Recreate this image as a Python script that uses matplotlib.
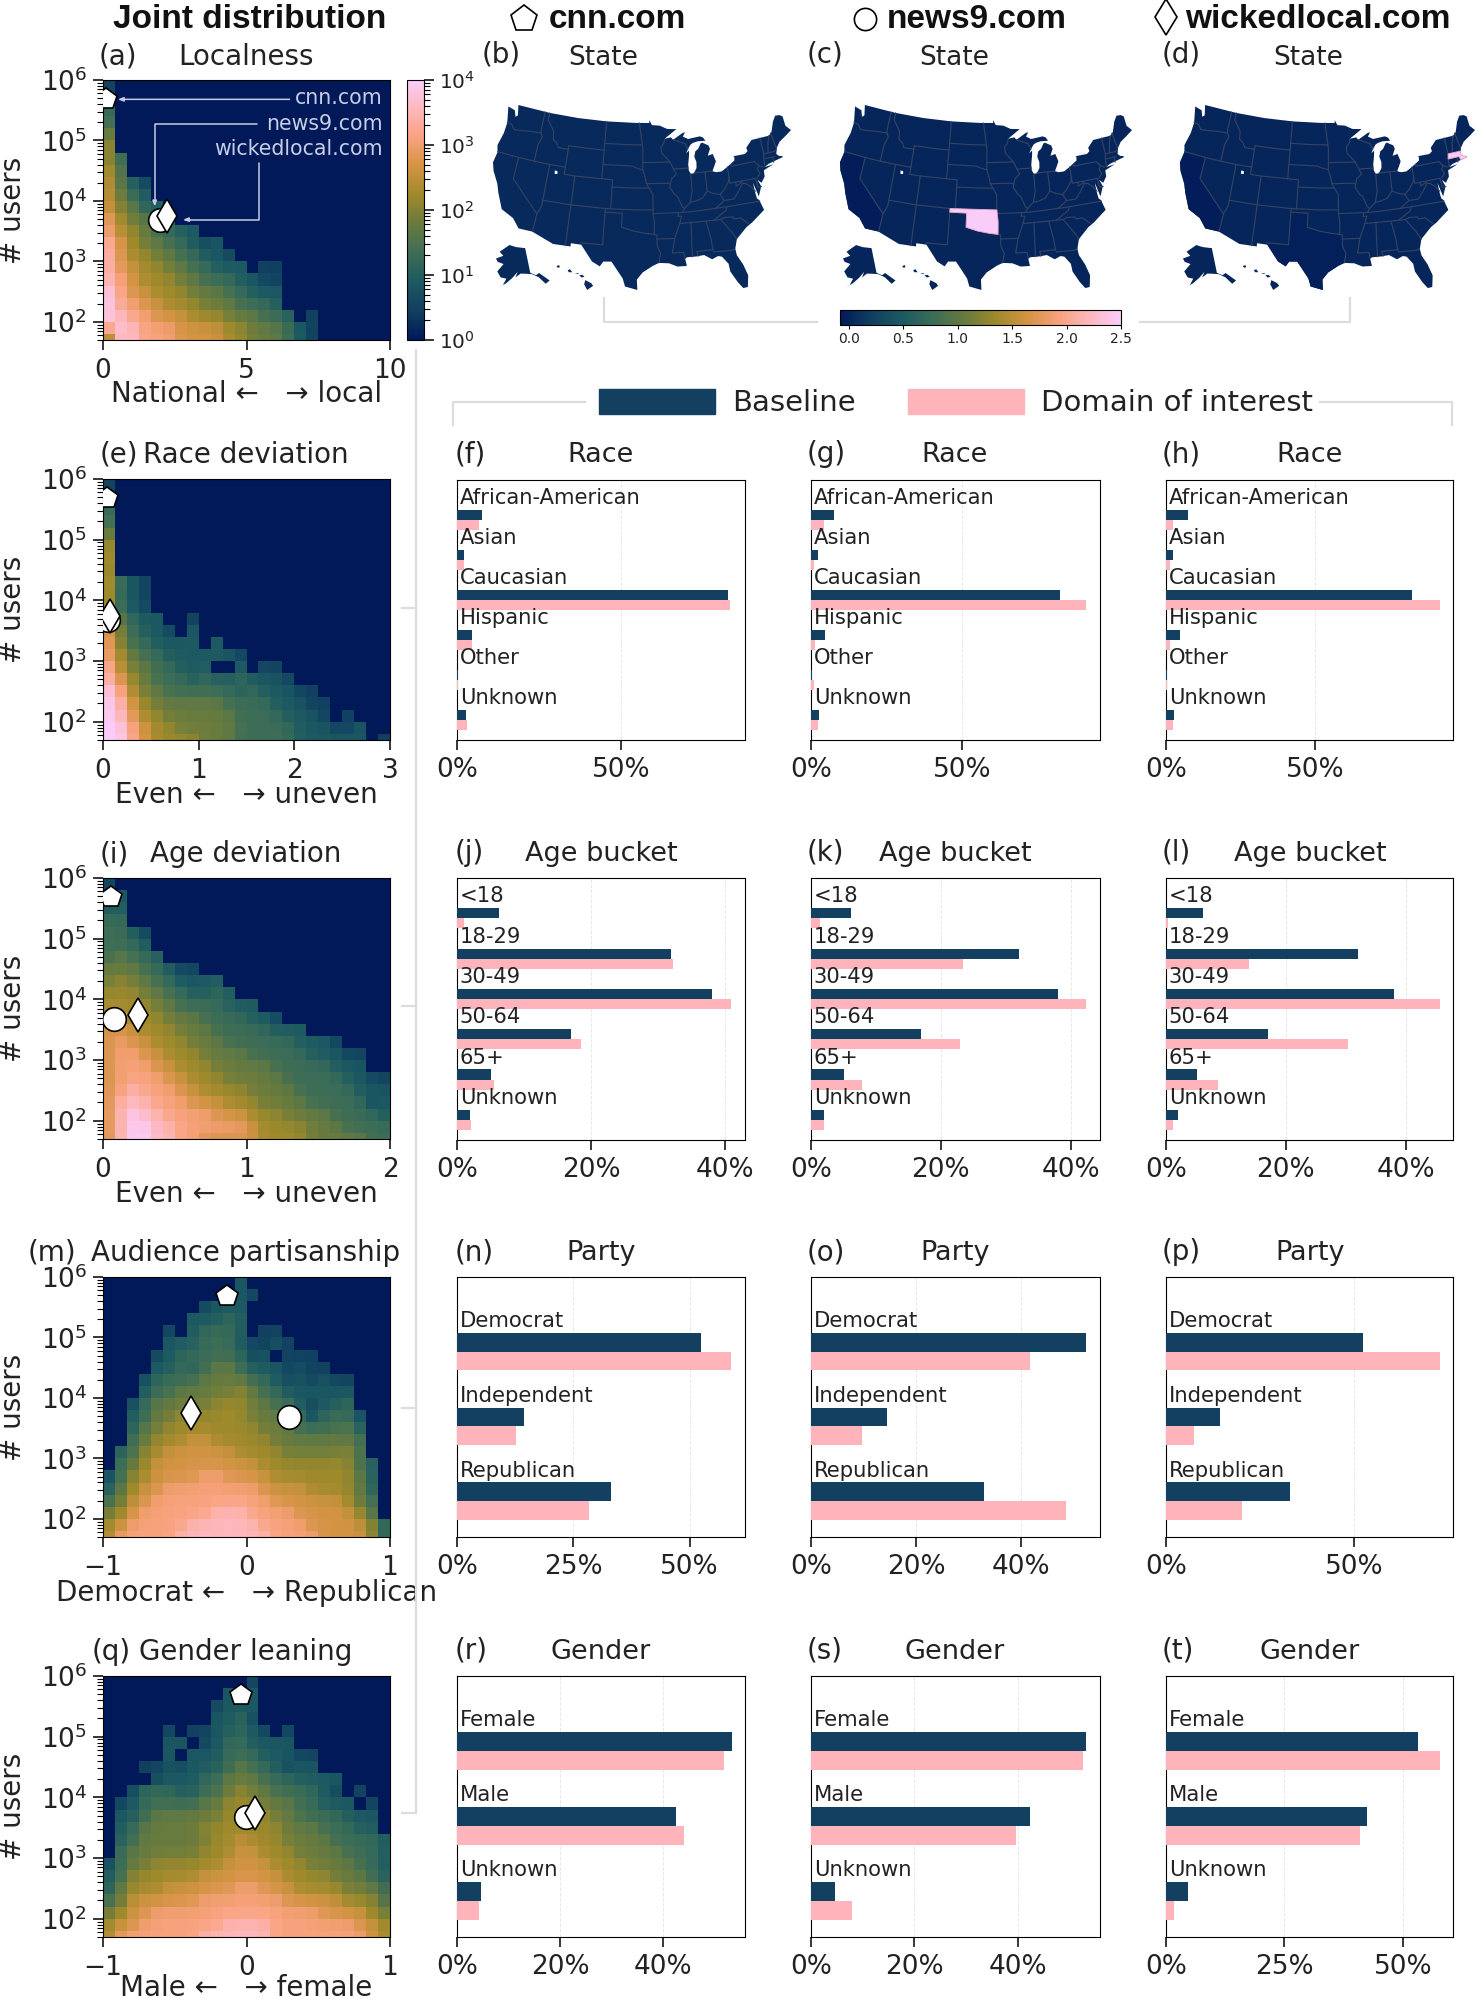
"""Joint distribution heatmaps, state maps and demographic bars for three domains."""

import numpy as np
import matplotlib
matplotlib.use("Agg")
import matplotlib.pyplot as plt
from matplotlib.colors import LinearSegmentedColormap, LogNorm, Normalize
from matplotlib.cm import ScalarMappable
from matplotlib.lines import Line2D
from matplotlib.patches import Patch, Polygon

W, H = 1477, 2000
TEXT = "#222222"
BASE_COLOR = "#133F60"
PINK = "#FFB3BA"
LINE_GREY = "#dcdcdc"

CMAP = LinearSegmentedColormap.from_list("batlowish", [
    "#011959", "#103F60", "#1C5A62", "#3C6D56", "#687B3E",
    "#9D892B", "#D29343", "#F8A17B", "#FDB7BC", "#FACCFA"])

# heatmap cells, top row first, colour level 0-9 (log count = level * 4 / 9),
# rows are padded with 0 on the right up to 24 columns
LOCALNESS = ["1", "2", "3", "3", "4", "5", "52", "63", "6321", "6432", "64422",
             "754432", "75543322", "8654433212", "86554433221",
             "866554433222011", "876555443332211", "976655544433222",
             "977665554443332", "987766655544433201",
             "798777666655444321", "498777666655444321"]
RACE_DEV = ["1", "2", "3", "3", "4", "5", "5", "5", "6221", "6221", "6221",
            "63322001", "74322102", "7433222202", "754332222221",
            "854433222002011", "8654333232232221", "975443333332322211",
            "9865444444333322211", "986554444443333222101",
            "9976554444433333222112", "997655554443333322222201"]
AGE_DEV = ["1", "22", "22", "33", "3321", "3332", "34332", "44433211",
           "4544332222", "55544332232", "5555443333222", "665554443333221",
           "66655544433333222", "67665554443333332221",
           "6776655544443333322211", "6777665554444433333222",
           "677776655544444333332211", "678777665555444433333222",
           "688877766655544443333312", "689887777666555444433332",
           "689988777777655554443333", "689988776666655554444433"]
PARTISAN = ["000000000002", "0000000000221", "000000001222", "000000022232",
            "000001023332011", "0000022233321121", "000012333333120111",
            "0000223234432221211", "000133334444332121211",
            "000233444445433222222", "001344444555443321223",
            "0023445555554444313331", "0024455555555444333342",
            "0034555665555544444443", "0235566666655554444453",
            "03456666666665555555532", "13556666776666555555542",
            "24566777777776666555542", "34667777777777666666543",
            "45677777788877776666653", "567777788888877776666652",
            "577777888888887777666652"]
GENDER_LEAN = ["0000000000001", "0000000000222", "0000000001222", "0000000002231",
               "0000010112232101", "0000022012332222", "000002022233322211",
               "000112122234332122", "00001222334443332222",
               "0013332233454433332101", "01233333445554443322201",
               "02234444445555443333222", "02344444555555544433322",
               "023444444556555444433332", "034444445556655544443332",
               "134455555566665554444332", "235555556666666555544432",
               "245556666667766655554443", "346666667777777666665553",
               "456677777777777777666654", "566777777788887777777665",
               "577777778888887777777765"]

# log10 of the user counts of the three domains
CNN_USERS, NEWS9_USERS, WICKED_USERS = 5.68, 3.68, 3.75
# domain x position per panel: cnn, news9, wickedlocal
LOCALNESS_X = [0.12, 2.0, 2.24]
RACE_X = [0.04, 0.05, 0.07]
AGE_X = [0.058, 0.077, 0.247]
PARTISAN_X = [-0.133, 0.298, -0.388]
GENDER_X = [-0.035, -0.005, 0.058]

RACE_CATS = ["African-American", "Asian", "Caucasian", "Hispanic", "Other", "Unknown"]
RACE_BASE = [7.5, 2.2, 82.5, 4.7, 0.3, 2.6]
RACE_CNN = [6.6, 2.2, 83.0, 4.6, 0.3, 3.0]
RACE_NEWS9 = [4.4, 1.0, 91.2, 1.2, 1.0, 2.2]
RACE_WICKED = [2.5, 1.5, 91.8, 1.2, 0.5, 2.5]

AGE_CATS = ["<18", "18-29", "30-49", "50-64", "65+", "Unknown"]
AGE_BASE = [6.2, 32.0, 38.0, 17.0, 5.1, 2.0]
AGE_CNN = [1.1, 32.3, 40.9, 18.5, 5.5, 2.1]
AGE_NEWS9 = [1.4, 23.4, 42.3, 23.0, 7.9, 2.0]
AGE_WICKED = [0.4, 13.9, 45.7, 30.4, 8.6, 1.2]

PARTY_CATS = ["Democrat", "Independent", "Republican"]
PARTY_BASE = [52.4, 14.4, 33.0]
PARTY_CNN = [58.8, 12.6, 28.3]
PARTY_NEWS9 = [41.7, 9.7, 48.5]
PARTY_WICKED = [72.8, 7.5, 20.2]

GENDER_CATS = ["Female", "Male", "Unknown"]
GENDER_BASE = [53.2, 42.4, 4.7]
GENDER_CNN = [51.7, 44.0, 4.2]
GENDER_NEWS9 = [52.6, 39.7, 7.9]
GENDER_WICKED = [57.8, 40.9, 1.7]

# state map outlines, lon/lat
US_OUTLINE = [(-124.7, 48.4), (-123.2, 48.15), (-122.7, 47.3), (-122.3, 47.6), (-122.8, 49.0),
              (-116, 49), (-110, 49), (-104, 49), (-98, 49), (-95.15, 49.0), (-95.15, 49.4),
              (-94.6, 48.7), (-93.0, 48.6), (-91.5, 48.1), (-89.6, 48.0), (-92.1, 46.75),
              (-90.8, 46.9), (-90.4, 46.55), (-88.4, 47.4), (-87.9, 47.47), (-88.4, 46.9),
              (-87.4, 46.5), (-85.0, 46.7), (-84.4, 46.5), (-84.0, 46.0), (-85.5, 46.05),
              (-86.5, 45.9), (-87.0, 45.7), (-87.6, 45.1), (-88.0, 44.55), (-87.4, 44.9),
              (-87.5, 44.2), (-87.8, 43.0), (-87.8, 42.2), (-87.5, 41.7), (-86.9, 41.7),
              (-86.3, 42.4), (-86.2, 43.2), (-86.5, 44.0), (-86.2, 44.7), (-85.6, 45.0),
              (-85.0, 45.7), (-84.7, 45.8), (-83.5, 45.3), (-83.3, 44.8), (-83.9, 43.9),
              (-82.9, 44.05), (-82.5, 43.0), (-82.9, 42.4), (-83.2, 42.0), (-83.4, 41.7),
              (-82.7, 41.5), (-81.7, 41.5), (-80.5, 42.0), (-79.0, 42.7), (-78.9, 43.2),
              (-79.1, 43.3), (-76.8, 43.3), (-76.2, 43.6), (-76.3, 44.1), (-75.0, 45.0),
              (-71.5, 45.0), (-70.8, 45.4), (-70.3, 46.2), (-70.0, 46.7), (-69.2, 47.45),
              (-68.3, 47.35), (-67.8, 47.05), (-67.8, 45.7), (-67.0, 44.9), (-68.5, 44.3),
              (-69.8, 43.8), (-70.6, 43.1), (-70.8, 42.7), (-71.0, 42.3), (-70.6, 41.95),
              (-70.0, 41.8), (-70.0, 41.65), (-71.2, 41.5), (-72.9, 41.25), (-73.7, 40.95),
              (-72.0, 41.05), (-74.0, 40.55), (-74.1, 39.7), (-74.9, 38.95), (-75.5, 39.45),
              (-75.1, 38.5), (-75.9, 37.2), (-76.4, 39.2), (-76.4, 38.0), (-76.3, 37.0),
              (-75.95, 36.7), (-75.5, 35.25), (-76.6, 34.65), (-77.9, 33.9), (-79.0, 33.4),
              (-80.9, 32.0), (-81.4, 30.7), (-81.3, 29.8), (-80.55, 28.4), (-80.05, 26.8),
              (-80.4, 25.2), (-81.1, 25.15), (-81.8, 26.1), (-82.7, 27.7), (-82.8, 28.8),
              (-83.7, 29.9), (-84.3, 30.05), (-85.3, 29.7), (-86.5, 30.4), (-88.0, 30.3),
              (-89.2, 30.3), (-89.6, 30.15), (-89.4, 29.1), (-90.9, 29.1), (-92.2, 29.6),
              (-93.8, 29.7), (-94.8, 29.3), (-96.4, 28.4), (-97.3, 27.4), (-97.2, 25.95),
              (-99.1, 26.4), (-99.5, 27.5), (-100.4, 28.6), (-101.4, 29.77), (-102.7, 29.7),
              (-103.2, 29.0), (-104.5, 29.6), (-106.5, 31.75), (-108.2, 31.78), (-108.2, 31.33),
              (-111.07, 31.33), (-114.8, 32.5), (-117.1, 32.53), (-118.4, 33.75), (-120.6, 34.55),
              (-121.9, 36.6), (-122.5, 37.75), (-123.8, 39.3), (-124.35, 40.4), (-124.1, 41.9),
              (-124.5, 42.85), (-124.0, 44.7), (-123.95, 46.2)]
SALT_LAKE = [(-112.9, 41.3), (-112.4, 41.3), (-112.3, 40.9), (-112.8, 40.85)]
CALIFORNIA = [(-124.1, 42), (-120, 42), (-120, 39), (-114.6, 35), (-114.8, 32.5), (-117.1, 32.53),
              (-118.4, 33.75), (-120.6, 34.55), (-121.9, 36.6), (-122.5, 37.75), (-123.8, 39.3),
              (-124.35, 40.4)]
TEXAS = [(-106.5, 31.75), (-106.6, 32), (-103, 32), (-103, 36.5), (-100, 36.5), (-100, 34.56),
         (-98, 34.1), (-96, 33.8), (-94.48, 33.64), (-94.04, 33.55), (-94.04, 32), (-93.5, 31),
         (-93.8, 29.7), (-94.8, 29.3), (-96.4, 28.4), (-97.3, 27.4), (-97.2, 25.95), (-99.1, 26.4),
         (-99.5, 27.5), (-100.4, 28.6), (-101.4, 29.77), (-102.7, 29.7), (-103.2, 29.0), (-104.5, 29.6)]
OKLAHOMA = [(-103, 37), (-94.62, 37), (-94.43, 35.4), (-94.48, 33.64), (-96, 33.8), (-98, 34.1),
            (-100, 34.56), (-100, 36.5), (-103, 36.5)]
MASSACHUSETTS = [(-73.5, 42.05), (-71.4, 42.02), (-71.2, 41.5), (-70, 41.65), (-70, 41.8),
                 (-70.6, 41.95), (-71, 42.3), (-70.8, 42.7), (-71.3, 42.7), (-73.27, 42.75)]
ALASKA = [(-141, 69.6), (-141, 60.3), (-137.5, 59), (-135, 59.5), (-130, 55.7), (-133, 55),
          (-136, 58), (-140, 59.7), (-145, 60.3), (-148, 60.5), (-151.8, 59.2), (-150, 61.2),
          (-154, 59), (-158, 57), (-163, 55), (-160, 56.2), (-158, 58.7), (-162, 59),
          (-165, 61), (-161, 64), (-166, 64.5), (-168, 65.6), (-162, 67), (-166, 68.3),
          (-157, 71.2), (-150, 70.4)]
HAWAII = [[(-159.75, 22.1), (-159.4, 22.25), (-159.3, 21.95), (-159.6, 21.9)],
          [(-158.25, 21.55), (-157.95, 21.7), (-157.65, 21.3), (-158.1, 21.3)],
          [(-157.3, 21.2), (-156.7, 21.15), (-156.9, 21.05)],
          [(-156.7, 20.9), (-156.3, 20.95), (-156.0, 20.7), (-156.4, 20.6)],
          [(-155.9, 20.25), (-155.1, 19.85), (-154.85, 19.5), (-155.65, 18.95), (-156.05, 19.7)]]
BORDERS = [
    [(-124, 46.25), (-123, 46.15), (-122.3, 45.55), (-121, 45.65), (-119, 45.9), (-116.9, 46.0)],
    [(-117.03, 49), (-117.03, 46.4), (-116.9, 46.0), (-116.5, 45.5), (-117, 44.3), (-117.03, 42)],
    [(-124.1, 42), (-120, 42), (-117, 42), (-114, 42), (-111.05, 42)],
    [(-120, 42), (-120, 39), (-114.6, 35), (-114.05, 36.2), (-114.05, 42)],
    [(-114.6, 35), (-114.75, 32.6)],
    [(-116.05, 49), (-116.05, 48), (-114.5, 46.6), (-114.3, 45.5), (-113.5, 45.1), (-113, 44.5), (-111.05, 44.5)],
    [(-111.05, 45), (-111.05, 41), (-109.05, 41), (-102.05, 41), (-102.05, 37)],
    [(-111.05, 45), (-107, 45), (-104.05, 45)],
    [(-104.05, 49), (-104.05, 41)],
    [(-104.05, 45.94), (-100, 45.94), (-96.56, 45.94)],
    [(-104.05, 43), (-98.5, 43), (-97.9, 42.8), (-96.45, 42.5)],
    [(-102.05, 40), (-98, 40), (-95.3, 40)],
    [(-109.05, 41), (-109.05, 31.33)],
    [(-114.05, 37), (-109, 37), (-103, 37), (-98, 37), (-94.62, 37)],
    [(-103, 37), (-103, 32), (-106.6, 32)],
    [(-103, 36.5), (-100, 36.5), (-100, 34.56), (-98, 34.1), (-96, 33.8), (-94.48, 33.64),
     (-94.43, 35.4), (-94.62, 36.5), (-94.62, 39.1), (-95.3, 40), (-95.77, 40.6), (-96, 41.5),
     (-96.45, 42.5), (-96.45, 45.3), (-96.56, 45.94), (-97.2, 49)],
    [(-95.77, 40.6), (-91.7, 40.6), (-91.4, 40.4)],
    [(-96.45, 43.5), (-91.22, 43.5)],
    [(-92.1, 46.7), (-92.3, 46.1), (-92.9, 45.6), (-92.75, 44.75), (-91.22, 43.5), (-90.65, 42.5),
     (-90.15, 41.8), (-91.1, 41.2), (-91.4, 40.4), (-91.5, 40), (-90.7, 39), (-90.2, 38.7),
     (-89.5, 37.3), (-89.13, 37), (-89.5, 36.5), (-90.15, 36.5), (-90.35, 36), (-89.7, 36),
     (-90.1, 35), (-91.1, 33.0), (-91.6, 31), (-89.75, 31), (-89.6, 30.15)],
    [(-94.62, 36.5), (-90.15, 36.5)],
    [(-94.04, 33), (-91.1, 33)],
    [(-94.48, 33.64), (-94.04, 33.55), (-94.04, 32), (-93.5, 31), (-93.8, 29.7)],
    [(-88.2, 35), (-88.4, 30.3)],
    [(-85.6, 35), (-85.1, 32.5), (-85, 31), (-84.9, 30.7), (-82.2, 30.57), (-81.45, 30.7)],
    [(-87.6, 31), (-85, 31)],
    [(-87.6, 31), (-87.5, 30.3)],
    [(-90.1, 35), (-84.3, 35), (-83.1, 35), (-82.4, 35.2), (-81, 35.1), (-80.8, 34.8), (-79.7, 34.8), (-78.55, 33.85)],
    [(-83.1, 35), (-81.5, 33), (-80.9, 32)],
    [(-89.5, 36.5), (-88, 36.5), (-83.7, 36.6), (-81.7, 36.6), (-75.9, 36.55)],
    [(-84.3, 35), (-82, 36.1), (-81.7, 36.6)],
    [(-83.7, 36.6), (-82, 37.5), (-82.6, 38.4)],
    [(-89.13, 37), (-88, 37.8), (-87, 37.9), (-85.8, 38.2), (-84.8, 39.1), (-83.7, 38.65),
     (-82.6, 38.4), (-81.7, 39), (-80.7, 40), (-80.52, 40.6)],
    [(-87.5, 41.7), (-87.5, 39.3), (-88, 37.8)],
    [(-84.8, 41.75), (-84.8, 39.1)],
    [(-86.9, 41.75), (-84.8, 41.75), (-83.4, 41.72)],
    [(-90.65, 42.5), (-87.8, 42.5)],
    [(-90.4, 46.55), (-88.1, 45.9), (-87.6, 45.1)],
    [(-80.52, 42), (-80.52, 39.72), (-75.8, 39.72)],
    [(-82, 37.5), (-80.3, 37.5), (-79.3, 38.4), (-78.3, 39.4), (-77.7, 39.3), (-77.0, 38.8), (-76.3, 38.0)],
    [(-79.48, 39.72), (-79.48, 39.2), (-78.3, 39.6)],
    [(-79.76, 42.25), (-79.76, 42), (-75.35, 42), (-74.7, 41.35), (-75.1, 40.9), (-74.8, 40.2), (-75.5, 39.7)],
    [(-74.7, 41.35), (-74, 41)],
    [(-73.65, 41), (-73.5, 42.05), (-73.27, 42.75), (-73.3, 45)],
    [(-73.5, 42.05), (-71.8, 42.02), (-71.4, 42.02)],
    [(-71.8, 42.02), (-71.85, 41.3)],
    [(-72.45, 42.73), (-72.05, 44), (-71.5, 45)],
    [(-73.27, 42.75), (-71.3, 42.7), (-70.8, 42.87)],
    [(-70.7, 43.1), (-71.05, 45.3)],
    [(-75.8, 39.72), (-75.7, 38.46), (-75.05, 38.45)],
]


def rect(x0, y0, x1, y1):
    return [x0 / W, 1 - y1 / H, (x1 - x0) / W, (y1 - y0) / H]


def fig_text(fig, x, y, s, **kw):
    kw.setdefault("color", TEXT)
    kw.setdefault("va", "center")
    fig.text(x / W, 1 - y / H, s, **kw)


def fig_line(fig, xs, ys):
    fig.add_artist(Line2D([x / W for x in xs], [1 - y / H for y in ys],
                          color=LINE_GREY, lw=1.6, transform=fig.transFigure))


def albers(points, lon0=-96.0, lat0=37.5, p1=29.5, p2=45.5):
    pts = np.radians(np.array(points, dtype=float))
    lon0, lat0, p1, p2 = np.radians([lon0, lat0, p1, p2])
    n = (np.sin(p1) + np.sin(p2)) / 2
    c = np.cos(p1) ** 2 + 2 * n * np.sin(p1)
    rho = np.sqrt(c - 2 * n * np.sin(pts[:, 1])) / n
    rho0 = np.sqrt(c - 2 * n * np.sin(lat0)) / n
    theta = n * (pts[:, 0] - lon0)
    return np.column_stack([rho * np.sin(theta), rho0 - rho * np.cos(theta)])


def fit_box(xy, x0, x1, y0, y1):
    xy = np.asarray(xy)
    mn, mx = xy.min(axis=0), xy.max(axis=0)
    return np.column_stack([x0 + (xy[:, 0] - mn[0]) / (mx[0] - mn[0]) * (x1 - x0),
                            y0 + (xy[:, 1] - mn[1]) / (mx[1] - mn[1]) * (y1 - y0)])


def draw_map(fig, box, color_of, base, dark=None, highlight=None):
    ax = fig.add_axes(rect(*box))
    outline = albers(US_OUTLINE)
    ax.set_xlim(outline[:, 0].min(), outline[:, 0].max())
    ax.set_ylim(outline[:, 1].min(), outline[:, 1].max())
    ax.axis("off")
    ax.add_patch(Polygon(outline, fc=color_of(base), lw=0))
    for shape, value in (dark or []):
        ax.add_patch(Polygon(albers(shape), fc=color_of(value), lw=0))
    for line in BORDERS:
        xy = albers(line)
        ax.plot(xy[:, 0], xy[:, 1], color="#364463", lw=0.8, solid_capstyle="round")
    if highlight is not None:
        ax.add_patch(Polygon(albers(highlight), fc=color_of(2.5), ec="#e9a9c8", lw=0.6, zorder=4))
    ax.add_patch(Polygon(albers(SALT_LAKE), fc="white", lw=0, zorder=5))
    # insets live in axes fractions
    ak = fit_box(albers(ALASKA, lon0=-154, lat0=50, p1=55, p2=65), 0.01, 0.19, 0.011, 0.243)
    ax.add_patch(Polygon(ak, fc=color_of(base), lw=0, transform=ax.transAxes, clip_on=False))
    all_hi = np.array([p for isl in HAWAII for p in isl])
    mn, mx = all_hi.min(axis=0), all_hi.max(axis=0)
    for isl in HAWAII:
        arr = np.array(isl)
        hi = np.column_stack([0.213 + (arr[:, 0] - mn[0]) / (mx[0] - mn[0]) * 0.123,
                              0.0 + (arr[:, 1] - mn[1]) / (mx[1] - mn[1]) * 0.135])
        ax.add_patch(Polygon(hi, fc=color_of(base), lw=0, transform=ax.transAxes, clip_on=False))


def soften(levels):
    # the typed levels are coarse, take the steps out without touching empty cells
    kernel = np.array([[1, 2, 1], [2, 8, 2], [1, 2, 1]], dtype=float)
    mask = levels > 0
    out = levels.copy()
    for r, c in zip(*np.nonzero(mask)):
        total, weight = 0.0, 0.0
        for dr in (-1, 0, 1):
            for dc in (-1, 0, 1):
                rr, cc = r + dr, c + dc
                if 0 <= rr < levels.shape[0] and 0 <= cc < levels.shape[1] and mask[rr, cc]:
                    total += kernel[dr + 1, dc + 1] * levels[rr, cc]
                    weight += kernel[dr + 1, dc + 1]
        out[r, c] = total / weight
    return out


def draw_heatmap(fig, box, rows, xlim, xticks, xlabel, xs, label_y):
    ax = fig.add_axes(rect(*box))
    levels = np.array([[int(c) for c in row.ljust(24, "0")] for row in rows[::-1]], dtype=float)
    x_edges = np.linspace(xlim[0], xlim[1], 25)
    y_edges = 10 ** np.r_[np.log10(50), np.arange(1.8, 6.01, 0.2)]
    ax.pcolormesh(x_edges, y_edges, 10 ** (soften(levels) * 4 / 9), cmap=CMAP,
                  norm=LogNorm(1, 1e4), antialiased=True, linewidth=0)
    ax.set_yscale("log")
    ax.set_xlim(*xlim)
    ax.set_ylim(50, 1e6)
    ax.set_xticks(xticks)
    ax.set_yticks([1e2, 1e3, 1e4, 1e5, 1e6])
    ax.tick_params(axis="x", which="major", labelsize=19, length=7.5, width=1.1, pad=5.5, labelcolor=TEXT)
    ax.tick_params(axis="y", which="major", labelsize=19, length=7.5, width=1.1, pad=4, labelcolor=TEXT)
    ax.tick_params(axis="y", which="minor", length=4, width=0.8)
    ax.set_xlabel(xlabel, fontsize=20, color=TEXT, va="center")
    ax.xaxis.set_label_coords(0.5, -label_y / (box[3] - box[1]))
    ax.set_ylabel("# users", fontsize=20, color=TEXT, va="center")
    ax.yaxis.set_label_coords(-90 / (box[2] - box[0]), 0.5)
    users = [10 ** CNN_USERS, 10 ** NEWS9_USERS, 10 ** WICKED_USERS]
    for x, y, marker, ms in zip(xs, users, ["p", "o", "d"], [16, 17, 17]):
        ax.plot([x], [y], marker=marker, ms=ms, mfc="white", mec="black", mew=1.2, ls="none", zorder=5)
    return ax


def draw_bars(fig, box, cats, base, pink, xmax, ticks):
    ax = fig.add_axes(rect(*box))
    y = np.arange(len(cats))
    ax.barh(y - 0.125, base, height=0.25, color=BASE_COLOR, zorder=3)
    ax.barh(y + 0.125, pink, height=0.25, color=PINK, zorder=3)
    ax.set_xlim(0, xmax)
    ax.set_ylim(len(cats) - 0.5 if len(cats) == 6 else len(cats) - 0.52, -1)
    ax.set_yticks([])
    ax.set_xticks(ticks)
    ax.set_xticklabels([f"{t}%" for t in ticks])
    ax.tick_params(axis="x", labelsize=19, length=7, width=1.1, pad=5.5, labelcolor=TEXT)
    ax.grid(axis="x", ls="--", color="#bbbbbb", lw=0.7, alpha=0.35, zorder=0)
    for i, cat in enumerate(cats):
        ax.annotate(cat, xy=(0, i - 0.25), xytext=(2, 8.5), textcoords="offset points",
                    ha="left", va="center", fontsize=15.2, color=TEXT, zorder=5)
    return ax


fig = plt.figure(figsize=(W / 100, H / 100), dpi=100)

# headers
HEAD_FONT = dict(fontsize=24, fontweight="bold", family="Liberation Sans", ha="center", color="#111111")
fig_text(fig, 250, 19, "Joint distribution", **HEAD_FONT)
fig_text(fig, 617, 19, "cnn.com", **HEAD_FONT)
fig_text(fig, 977, 19, "news9.com", **HEAD_FONT)
fig_text(fig, 1318, 19, "wickedlocal.com", **HEAD_FONT)
for x, y, marker, ms in [(524, 19, "p", 20), (865, 19, "o", 16), (1166, 17, "d", 18)]:
    fig.add_artist(Line2D([x / W], [1 - y / H], marker=marker, ms=ms, mfc="white", mec="black",
                          mew=1.2, ls="none", transform=fig.transFigure))

# left column
HEAT_X = (103, 390)
heat_a = draw_heatmap(fig, (HEAT_X[0], 80, HEAT_X[1], 340), LOCALNESS, (0, 10), [0, 5, 10],
                      "National ←   → local", LOCALNESS_X, 54)
draw_heatmap(fig, (HEAT_X[0], 479, HEAT_X[1], 740), RACE_DEV, (0, 3), [0, 1, 2, 3],
             "Even ←   → uneven", RACE_X, 55)
draw_heatmap(fig, (HEAT_X[0], 878, HEAT_X[1], 1139), AGE_DEV, (0, 2), [0, 1, 2],
             "Even ←   → uneven", AGE_X, 55)
draw_heatmap(fig, (HEAT_X[0], 1277, HEAT_X[1], 1537), PARTISAN, (-1, 1), [-1, 0, 1],
             "Democrat ←   → Republican", PARTISAN_X, 56)
draw_heatmap(fig, (HEAT_X[0], 1676, HEAT_X[1], 1937), GENDER_LEAN, (-1, 1), [-1, 0, 1],
             "Male ←   → female", GENDER_X, 51)

LEFT_TITLES = [("(a)", 99, "Localness", 57), ("(e)", 100, "Race deviation", 455),
               ("(i)", 100, "Age deviation", 854), ("(m)", 28, "Audience partisanship", 1253),
               ("(q)", 92, "Gender leaning", 1652)]
for tag, tag_x, title, y in LEFT_TITLES:
    fig_text(fig, tag_x, y, tag, fontsize=20)
    fig_text(fig, 246, y, title, fontsize=20, ha="center")

# callouts in panel (a)
for name, y in [("cnn.com", 98), ("news9.com", 124), ("wickedlocal.com", 149)]:
    fig_text(fig, 383, y, name, fontsize=14.8, ha="right", color="#c6cde4", zorder=10)
ARROW = dict(arrowstyle="-|>,head_length=0.3,head_width=0.12", color="#c6cde4", lw=1.1, shrinkA=0, shrinkB=0)
heat_a.annotate("", xy=(0.52, 10 ** 5.68), xytext=(6.5, 10 ** 5.68), arrowprops=ARROW, zorder=6)
heat_a.annotate("", xy=(1.8, 10 ** 3.91), xytext=(5.35, 10 ** 5.27),
                arrowprops=dict(ARROW, connectionstyle="angle,angleA=0,angleB=90,rad=0"), zorder=6)
heat_a.annotate("", xy=(2.79, 10 ** 3.69), xytext=(5.44, 10 ** 4.62),
                arrowprops=dict(ARROW, connectionstyle="angle,angleA=90,angleB=0,rad=0"), zorder=6)

# log colourbar
cax = fig.add_axes(rect(407, 80, 424, 340))
cb = fig.colorbar(ScalarMappable(norm=LogNorm(1, 1e4), cmap=CMAP), cax=cax)
cb.set_ticks([1, 10, 100, 1000, 10000])
cax.tick_params(which="major", labelsize=14.5, length=7, width=1.1, pad=4, labelcolor=TEXT)
cax.tick_params(which="minor", length=4, width=0.8)

# state maps
MAP_NORM = Normalize(-0.08, 2.5)
map_color = lambda v: CMAP(MAP_NORM(v))
draw_map(fig, (493, 105, 791, 290), map_color, 0.05)
draw_map(fig, (840, 105, 1132, 290), map_color, 0.03, dark=[(CALIFORNIA, -0.04)], highlight=OKLAHOMA)
draw_map(fig, (1180, 105, 1475, 290), map_color, 0.03, dark=[(CALIFORNIA, -0.04), (TEXAS, -0.02)],
         highlight=MASSACHUSETTS)
for tag, tag_x, cx in [("(b)", 482, 603), ("(c)", 807, 954), ("(d)", 1162, 1308)]:
    fig_text(fig, tag_x, 54, tag, fontsize=20)
    fig_text(fig, cx, 58, "State", fontsize=19, ha="center")

hax = fig.add_axes(rect(840, 310, 1121, 325))
hb = fig.colorbar(ScalarMappable(norm=MAP_NORM, cmap=CMAP), cax=hax, orientation="horizontal")
hb.set_ticks([0, 0.5, 1, 1.5, 2, 2.5])
hax.tick_params(labelsize=10, length=3, width=0.8, pad=2, labelcolor=TEXT)

# connector lines
fig_line(fig, [604, 604, 817], [298, 322, 322])
fig_line(fig, [1140, 1350, 1350], [322, 322, 298])
fig_line(fig, [453, 453, 585], [425, 402, 402])
fig_line(fig, [1320, 1452, 1452], [402, 402, 425])
fig_line(fig, [416, 416, 402], [350, 1813, 1813])
for y in [608, 1006, 1408]:
    fig_line(fig, [402, 416], [y, y])

fig.legend(handles=[Patch(color=BASE_COLOR, label="Baseline"), Patch(color=PINK, label="Domain of interest")],
           loc="center", bbox_to_anchor=(956 / W, 1 - 403 / H), ncols=2, frameon=False, fontsize=21,
           handlelength=3.98, handleheight=0.93, handletextpad=0.58, columnspacing=1.78, labelcolor=TEXT)

# bar columns
COL_X = [(457, 745), (811, 1100), (1166, 1453)]
COL_CX = [601, 955, 1310]
ROWS = [
    ((480, 740), 455, "Race", RACE_CATS, RACE_BASE, [RACE_CNN, RACE_NEWS9, RACE_WICKED],
     [87.6, 95.8, 96.2], [[0, 50]] * 3, ["(f)", "(g)", "(h)"]),
    ((878, 1140), 854, "Age bucket", AGE_CATS, AGE_BASE, [AGE_CNN, AGE_NEWS9, AGE_WICKED],
     [43.0, 44.5, 47.9], [[0, 20, 40]] * 3, ["(j)", "(k)", "(l)"]),
    ((1277, 1537), 1253, "Party", PARTY_CATS, PARTY_BASE, [PARTY_CNN, PARTY_NEWS9, PARTY_WICKED],
     [61.9, 55.0, 76.3], [[0, 25, 50], [0, 20, 40], [0, 50]], ["(n)", "(o)", "(p)"]),
    ((1676, 1937), 1652, "Gender", GENDER_CATS, GENDER_BASE, [GENDER_CNN, GENDER_NEWS9, GENDER_WICKED],
     [55.8, 55.9, 60.6], [[0, 20, 40], [0, 20, 40], [0, 25, 50]], ["(r)", "(s)", "(t)"]),
]
TAG_X = [455, 807, 1162]
for (y0, y1), title_y, title, cats, base, pinks, xmaxes, ticks, tags in ROWS:
    for c in range(3):
        draw_bars(fig, (COL_X[c][0], y0, COL_X[c][1], y1), cats, base, pinks[c], xmaxes[c], ticks[c])
        fig_text(fig, COL_CX[c], title_y, title, fontsize=19.5, ha="center")
        fig_text(fig, TAG_X[c], title_y - 1, tags[c], fontsize=20)

fig.savefig("out.png", dpi=100)
